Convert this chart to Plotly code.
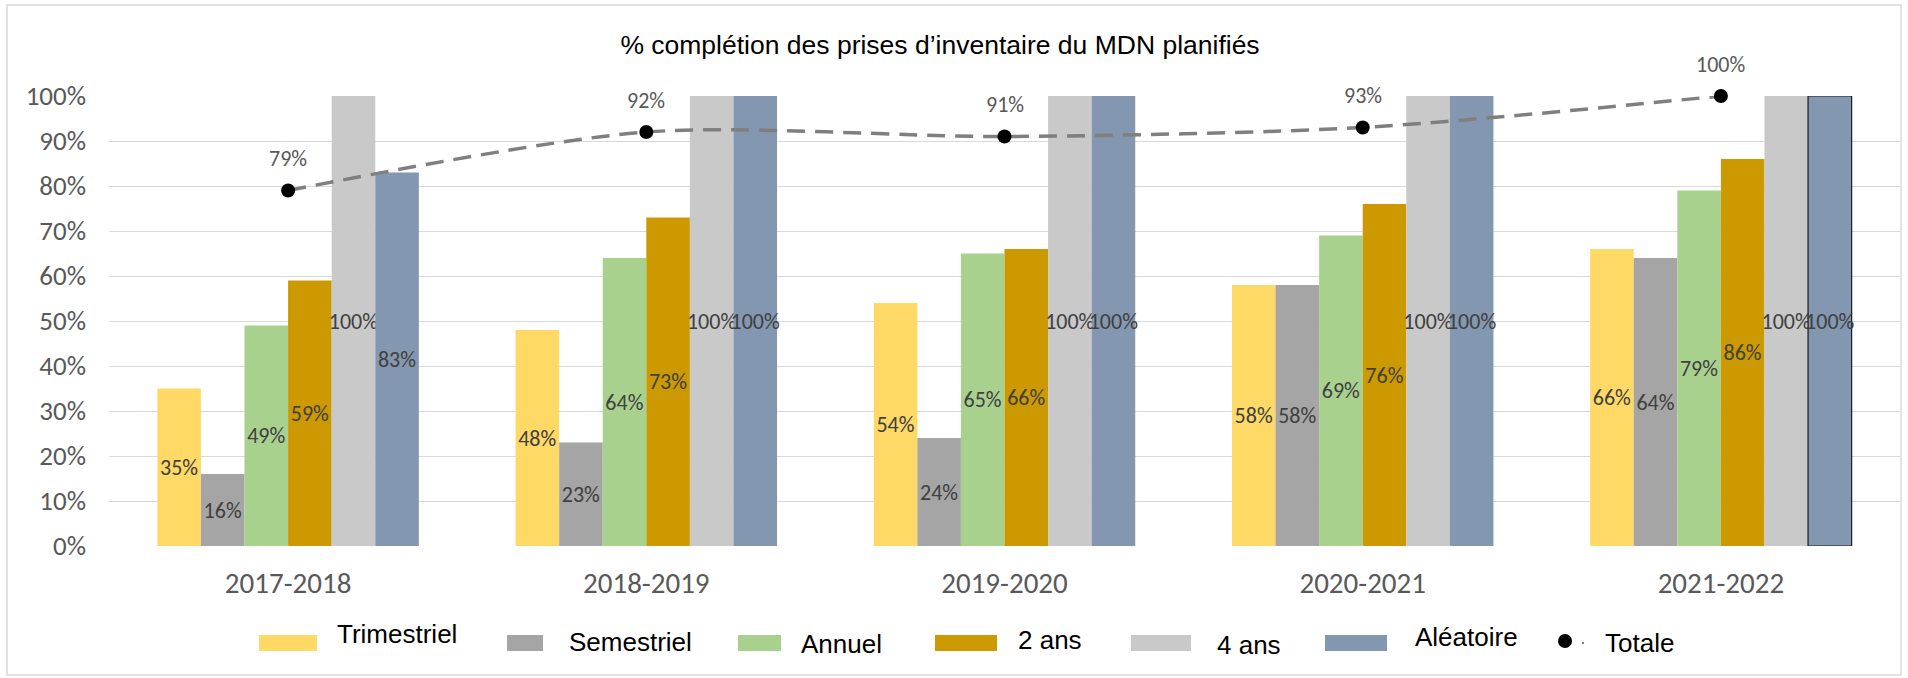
import plotly.graph_objects as go

categories = ["2017-2018", "2018-2019", "2019-2020", "2020-2021", "2021-2022"]
trimestriel = [0.35, 0.48, 0.54, 0.58, 0.66]
semestriel = [0.16, 0.23, 0.24, 0.58, 0.64]
annuel = [0.49, 0.64, 0.65, 0.69, 0.79]
deux_ans = [0.59, 0.73, 0.66, 0.76, 0.86]
quatre_ans = [1.00, 1.00, 1.00, 1.00, 1.00]
aleatoire = [0.83, 1.00, 1.00, 1.00, 1.00]
totale = [0.79, 0.92, 0.91, 0.93, 1.00]

series_names = ["Trimestriel", "Semestriel", "Annuel", "2 ans", "4 ans", "Aléatoire"]
series_values = [trimestriel, semestriel, annuel, deux_ans, quatre_ans, aleatoire]
series_colors = ["#FFD966", "#A5A5A5", "#A9D18E", "#CC9900", "#C9C9C9", "#8497B0"]

LABEL_FONT = "Carlito, Calibri, Lato, sans-serif"
ARIAL = "Liberation Sans, Arial, sans-serif"

W, H = 1908, 678
plot_l, plot_r, plot_t, plot_b = 109, 8, 96, 132
pw = W - plot_l - plot_r
ph = H - plot_t - plot_b


def px_x(px):
    return (px - plot_l) / pw


def px_y(py):
    return (plot_t + ph - py) / ph


fig = go.Figure()
for name, vals, color in zip(series_names, series_values, series_colors):
    line_w = [0] * len(vals)
    if name == "Aléatoire":
        line_w[-1] = 1.2
    fig.add_trace(go.Bar(
        name=name, x=categories, y=vals,
        marker=dict(color=color, line=dict(color="#1a1a1a", width=line_w)),
        text=[f"{round(v*100)}%" for v in vals],
        textposition="inside", insidetextanchor="middle",
        textangle=0, constraintext="none",
        textfont=dict(family=LABEL_FONT, size=22, color="#404040"),
        hoverinfo="skip", showlegend=False,
    ))

fig.add_trace(go.Scatter(
    name="Totale", x=categories, y=totale, mode="lines+markers",
    line=dict(color="#7F7F7F", width=3.5, dash="18px,10px", shape="spline", smoothing=0.8),
    marker=dict(color="#000000", size=14),
    cliponaxis=False, hoverinfo="skip", showlegend=False,
))

for c, v in zip(categories, totale):
    fig.add_annotation(x=c, y=v, xref="x", yref="y", text=f"{round(v*100)}%",
                       showarrow=False, yshift=32,
                       font=dict(family=LABEL_FONT, size=22, color="#595959"))

# outer frame
fig.add_shape(type="rect", xref="paper", yref="paper",
              x0=px_x(7), x1=px_x(1901), y0=px_y(675), y1=px_y(5),
              line=dict(color="#D9D9D9", width=1.5), fillcolor="rgba(0,0,0,0)", layer="below")

# custom legend (Excel style wide swatches)
swatch_x = [259, 507, 738, 935, 1131, 1325]
swatch_w = [58, 36, 43, 62, 60, 62]
text_x = [335, 567, 799, 1016, 1215, 1413]
text_y = [634, 642, 644, 640, 645, 637]
sw_y = 643
for name, color, sx, sw, tx, ty in zip(series_names, series_colors, swatch_x, swatch_w, text_x, text_y):
    fig.add_shape(type="rect", xref="paper", yref="paper",
                  x0=px_x(sx), x1=px_x(sx + sw), y0=px_y(sw_y + 8), y1=px_y(sw_y - 8),
                  line=dict(width=0), fillcolor=color)
    fig.add_annotation(xref="paper", yref="paper", x=px_x(tx), y=px_y(ty),
                       xanchor="left", yanchor="middle", text=name, showarrow=False,
                       font=dict(family=ARIAL, size=26, color="#000000"))
# Totale legend entry
fig.add_shape(type="circle", xref="paper", yref="paper",
              x0=px_x(1565 - 7), x1=px_x(1565 + 7), y0=px_y(641 + 7), y1=px_y(641 - 7),
              line=dict(width=0), fillcolor="#000000")
fig.add_shape(type="line", xref="paper", yref="paper",
              x0=px_x(1582), x1=px_x(1584), y0=px_y(643), y1=px_y(643),
              line=dict(width=2, color="#7F7F7F"))
fig.add_annotation(xref="paper", yref="paper", x=px_x(1603), y=px_y(643),
                   xanchor="left", yanchor="middle", text="Totale", showarrow=False,
                   font=dict(family=ARIAL, size=26, color="#000000"))

fig.update_layout(
    width=W, height=H,
    margin=dict(l=plot_l, r=plot_r, t=plot_t, b=plot_b, pad=0, autoexpand=False),
    paper_bgcolor="white", plot_bgcolor="white",
    barmode="group", bargap=0.27, bargroupgap=0,
    title=dict(text="% complétion des prises d’inventaire du MDN planifiés",
               x=px_x(940), xref="paper", xanchor="center",
               y=1 - 45 / H, yref="container", yanchor="middle",
               font=dict(family=ARIAL, size=26.5, color="#000000")),
    xaxis=dict(showgrid=False, showline=False, zeroline=False, ticks="",
               tickfont=dict(family=LABEL_FONT, size=29, color="#595959"),
               ticklabelstandoff=17),
    yaxis=dict(range=[0, 1], dtick=0.1, tickformat=".0%", showgrid=True,
               gridcolor="#D9D9D9", gridwidth=1.3, zeroline=False, showline=False,
               ticks="", tickfont=dict(family=LABEL_FONT, size=27, color="#595959"),
               ticklabelstandoff=22),
    showlegend=False,
)

fig.write_html("out.html", config={"displayModeBar": False},
               post_script="document.body.style.margin='0';document.body.style.overflow='hidden';")
